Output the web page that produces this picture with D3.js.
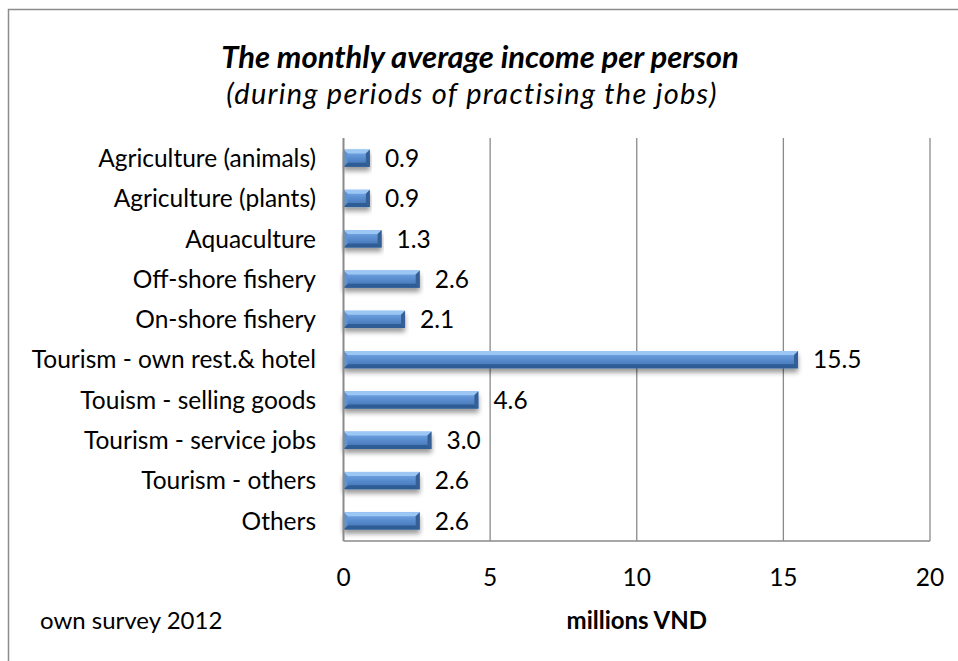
<!DOCTYPE html>
<html>
<head>
<meta charset="utf-8">
<script src="https://cdn.jsdelivr.net/npm/d3@7/dist/d3.min.js"></script>
<style>
  html, body { margin: 0; padding: 0; background: #fff; }
  svg { display: block; }
  text { font-family: Lato, "Open Sans", sans-serif; fill: #000; }
  text.subtitle { letter-spacing: 1.3px; }
</style>
</head>
<body>
<svg id="chart" width="958" height="661"></svg>
<script>
// Job categories, top to bottom
const categories = [
  "Agriculture (animals)",
  "Agriculture (plants)",
  "Aquaculture",
  "Off-shore fishery",
  "On-shore fishery",
  "Tourism - own rest.& hotel",
  "Touism - selling goods",
  "Tourism - service jobs",
  "Tourism - others",
  "Others"
];
// Monthly average income per person, millions VND
const incomes = [0.9, 0.9, 1.3, 2.6, 2.1, 15.5, 4.6, 3.0, 2.6, 2.6];
const xTicks = [0, 5, 10, 15, 20];

const titleText = "The monthly average income per person";
const subtitleText = "(during periods of practising the jobs)";
const axisTitle = "millions VND";
const sourceNote = "own survey 2012";

const svg = d3.select("#chart");
const plot = { left: 343.5, right: 930, top: 138, bottom: 541 };

const x = d3.scaleLinear().domain([0, 20]).range([plot.left, plot.right]);
const y = d3.scaleBand().domain(categories).range([plot.top, plot.bottom]).paddingInner(0.57).paddingOuter(0.285);

// chart frame
svg.append("rect")
  .attr("x", 8.5).attr("y", 9.5).attr("width", 1000).attr("height", 700)
  .attr("fill", "#fff").attr("stroke", "#8c8c8c").attr("stroke-width", 1.5);

const defs = svg.append("defs");
const grad = defs.append("linearGradient").attr("id", "barFace")
  .attr("x1", 0).attr("y1", 0).attr("x2", 0).attr("y2", 1);
grad.append("stop").attr("offset", "0%").attr("stop-color", "#7aade9");
grad.append("stop").attr("offset", "55%").attr("stop-color", "#5689cb");
grad.append("stop").attr("offset", "100%").attr("stop-color", "#3f70ae");

const shadow = defs.append("filter").attr("id", "barShadow")
  .attr("x", "-5%").attr("y", "-50%").attr("width", "110%").attr("height", "250%");
shadow.append("feDropShadow").attr("dx", 0).attr("dy", 4).attr("stdDeviation", 2.8)
  .attr("flood-color", "#000").attr("flood-opacity", 0.4);

// vertical gridlines
svg.append("g").selectAll("line")
  .data(xTicks.filter(d => d > 0))
  .join("line")
  .attr("x1", d => x(d)).attr("x2", d => x(d))
  .attr("y1", plot.top).attr("y2", plot.bottom)
  .attr("stroke", "#8a8a8a").attr("stroke-width", 1.3);

// bottom axis line
svg.append("line").attr("x1", plot.left).attr("x2", plot.right)
  .attr("y1", plot.bottom).attr("y2", plot.bottom)
  .attr("stroke", "#8a8a8a").attr("stroke-width", 1.3);

// bars with bevelled edges
const bw = 4;
const bars = svg.append("g").selectAll("g.bar")
  .data(categories.map((c, i) => ({ c, v: incomes[i] })))
  .join("g").attr("class", "bar").attr("filter", "url(#barShadow)");

bars.each(function(d) {
  const g = d3.select(this);
  const x0 = x(0), x1 = x(d.v), y0 = y(d.c), y1 = y(d.c) + y.bandwidth();
  g.append("rect").attr("x", x0).attr("y", y0).attr("width", x1 - x0).attr("height", y1 - y0)
    .attr("fill", "url(#barFace)");
  const poly = (pts, fill) => g.append("polygon")
    .attr("points", pts.map(p => p.join(",")).join(" ")).attr("fill", fill);
  poly([[x0, y0], [x1, y0], [x1 - bw, y0 + bw], [x0 + bw, y0 + bw]], "#9cc7f5");
  poly([[x0, y1], [x1, y1], [x1 - bw, y1 - bw], [x0 + bw, y1 - bw]], "#2f5d95");
  poly([[x0, y0], [x0 + bw, y0 + bw], [x0 + bw, y1 - bw], [x0, y1]], "#5d92d3");
  poly([[x1, y0], [x1 - bw, y0 + bw], [x1 - bw, y1 - bw], [x1, y1]], "#345f95");
});

// left axis line
svg.append("line").attr("x1", plot.left).attr("x2", plot.left)
  .attr("y1", plot.top).attr("y2", plot.bottom)
  .attr("stroke", "#8a8a8a").attr("stroke-width", 2);

const labelSize = 24.5;

// value labels
svg.append("g").selectAll("text")
  .data(categories.map((c, i) => ({ c, v: incomes[i] })))
  .join("text")
  .attr("x", d => x(d.v) + 15)
  .attr("y", d => y(d.c) + y.bandwidth() / 2)
  .attr("dy", "0.36em")
  .attr("font-size", labelSize)
  .text(d => d3.format(".1f")(d.v));

// category labels
svg.append("g").selectAll("text")
  .data(categories)
  .join("text")
  .attr("x", 316)
  .attr("y", d => y(d) + y.bandwidth() / 2)
  .attr("dy", "0.36em")
  .attr("text-anchor", "end")
  .attr("font-size", labelSize)
  .text(d => d);

// x tick labels
svg.append("g").selectAll("text")
  .data(xTicks)
  .join("text")
  .attr("x", d => x(d))
  .attr("y", 577)
  .attr("dy", "0.36em")
  .attr("text-anchor", "middle")
  .attr("font-size", labelSize)
  .text(d => d);

// titles and notes
svg.append("text").attr("x", 480).attr("y", 68)
  .attr("text-anchor", "middle").attr("font-size", 31)
  .attr("font-weight", "bold").attr("font-style", "italic").text(titleText);
svg.append("text").attr("class", "subtitle").attr("x", 472).attr("y", 104)
  .attr("text-anchor", "middle").attr("font-size", 29)
  .attr("font-style", "italic").text(subtitleText);
svg.append("text").attr("x", x(10)).attr("y", 620).attr("dy", "0.36em")
  .attr("text-anchor", "middle").attr("font-size", 24)
  .attr("font-weight", "bold").text(axisTitle);
svg.append("text").attr("x", 40).attr("y", 620).attr("dy", "0.36em")
  .attr("font-size", 24).text(sourceNote);
</script>
</body>
</html>
